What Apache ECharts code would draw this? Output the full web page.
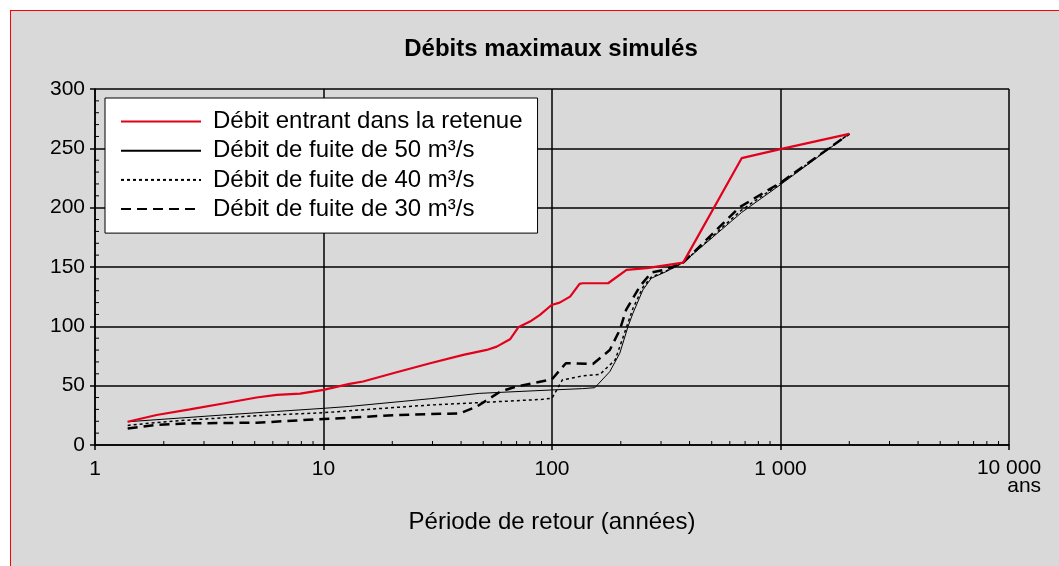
<!DOCTYPE html>
<html>
<head>
<meta charset="utf-8">
<script src="https://cdn.jsdelivr.net/npm/echarts@6/dist/echarts.min.js"></script>
<style>
html,body{margin:0;padding:0;background:#fff;}
#bg{position:absolute;left:10px;top:10px;width:1100px;height:600px;background:#d9d9d9;border-top:1px solid #ff0000;border-left:1px solid #ff0000;}
#chart{position:absolute;left:0;top:0;width:1059px;height:566px;}
</style>
</head>
<body>
<div id="bg"></div>
<div id="chart"></div>
<script>
// ---- data ----
const titleText = 'Débits maximaux simulés';
const xAxisName = 'Période de retour (années)';
const seriesNames = ['Débit entrant dans la retenue', 'Débit de fuite de 50 m³/s', 'Débit de fuite de 40 m³/s', 'Débit de fuite de 30 m³/s'];
const xTickLabels = {1:'1', 10:'10', 100:'100', 1000:'1 000', 10000:'10 000'};
const xUnit = 'ans';

const inflow = [[1.39,19.6],[1.86,25.3],[2.6,30],[3.64,35],[5.1,40],[6.24,42.2],[7.9,43.3],[10,46.4],[13,51.5],[14.9,53.5],[20.9,61.3],[29.3,68.9],[40.9,75.9],[51.8,80.1],[57.3,82.9],[65.5,89.1],[71.2,99.2],[80.1,104],[88.6,109.6],[99.6,118],[108,120],[120,125],[132,135.8],[136,136.3],[176,136.3],[212,147.6],[260,149],[375,153.7],[676,241.7],[1000,249.3],[2000,262.2]];
const leak50 = [[1.39,19.6],[3.64,25.3],[10,30.9],[13,32.5],[29.3,39],[48,43.5],[58.6,44.3],[100,46.4],[136,47.5],[154,48.3],[179,61.8],[198,77.3],[215,99.7],[226,111],[250,130.7],[272,140.5],[315,146],[375,153.7],[676,196],[1000,219.4],[2000,262.2]];
const leak40 = [[1.39,16.5],[1.86,19],[2.6,21.1],[5.1,24.7],[10,27.2],[13,28.9],[29.3,33.7],[48,35.7],[91,38.5],[100,39.4],[111,54.8],[136,58.2],[162,59.5],[189,71.7],[205,91.3],[226,115],[250,133],[272,141.5],[315,146.5],[375,153.7],[676,198],[1000,220.5],[2000,262.2]];
const leak30 = [[1.39,14],[1.86,16.9],[2.6,18.3],[5.1,18.8],[10,21.9],[13,23],[20.9,25.3],[39.6,26.7],[46.8,32.3],[59.3,44.9],[69.6,49.2],[100,55.4],[115,68.9],[151,68.3],[179,80],[198,97],[211,113.8],[242,133.5],[272,145.3],[315,148],[375,153.7],[662,200.4],[1000,221],[2000,262.2]];

const xMinorTicks = [2,3,4,5,6,7,8,9,20,30,40,50,60,70,80,90,200,300,400,500,600,700,800,900,2000,3000,4000,5000,6000,7000,8000,9000];
const yMinorTicks = [10,20,30,40,60,70,80,90,110,120,130,140,160,170,180,190,210,220,230,240,260,270,280,290];

const FONT = '"Liberation Sans", Arial, Helvetica, sans-serif';
const chart = echarts.init(document.getElementById('chart'), null, {renderer:'canvas'});

const option = {
  animation: false,
  title: {
    text: titleText, left: 546, top: 32, textAlign: 'center',
    textStyle: {fontFamily: FONT, fontSize: 24, fontWeight: 'bold', color: '#000'}
  },
  legend: {
    orient: 'vertical', left: 105, top: 98,
    data: seriesNames,
    backgroundColor: '#fff', borderColor: '#000', borderWidth: 1,
    padding: [11.5, 15, 12, 15],
    itemWidth: 80, itemHeight: 14, itemGap: 5.2,
    itemStyle: {opacity: 0},
    textStyle: {fontFamily: FONT, fontSize: 24, color: '#000', lineHeight: 24, padding: [0,0,0,7]},
    selectedMode: false
  },
  grid: {left: 95, top: 89, right: 50, bottom: 121, show: false},
  xAxis: {
    type: 'log', logBase: 10, min: 1, max: 10000,
    name: xAxisName, nameLocation: 'middle', nameGap: 65,
    nameTextStyle: {fontFamily: FONT, fontSize: 24, color: '#000'},
    axisLine: {lineStyle: {color: '#000', width: 1.5}},
    axisTick: {show: true, length: 5, lineStyle: {color: '#000', width: 1.5}},
    splitLine: {show: true, showMinLine: true, showMaxLine: true, lineStyle: {color: '#000', width: 1.5}},
    axisLabel: {
      fontFamily: FONT, fontSize: 21, color: '#000', margin: 14,
      showMinLabel: true, showMaxLabel: true,
      formatter: function(v){
        const r = Math.round(v);
        if (r === 10000) return '{a|' + xTickLabels[r] + '}\n{b|' + xUnit + '}';
        return xTickLabels[r] !== undefined ? xTickLabels[r] : '';
      },
      rich: {
        a: {fontFamily: FONT, fontSize: 21, color: '#000', align: 'right', lineHeight: 18},
        b: {fontFamily: FONT, fontSize: 21, color: '#000', align: 'right', lineHeight: 18}
      }
    }
  },
  yAxis: {
    type: 'value', min: 0, max: 300, interval: 50,
    axisLine: {show: true, lineStyle: {color: '#000', width: 1.5}},
    axisTick: {show: true, length: 5, lineStyle: {color: '#000', width: 1.5}},
    splitLine: {show: true, showMinLine: true, showMaxLine: true, lineStyle: {color: '#000', width: 1.5}},
    axisLabel: {fontFamily: FONT, fontSize: 21, color: '#000', margin: 10}
  },
  series: [
    {type: 'custom', name: 'xminor', data: xMinorTicks.map(v => [v, 0]), renderItem: function(params, api){
      const p = api.coord([api.value(0), 0]);
      return {type:'line', shape:{x1:p[0], y1:p[1], x2:p[0], y2:p[1]-4}, style:{stroke:'#000', lineWidth:1}};
    }, silent: true, clip: false, z: 5},
    {type: 'custom', name: 'yminor', data: yMinorTicks.map(v => [1, v]), renderItem: function(params, api){
      const p = api.coord([1, api.value(1)]);
      return {type:'line', shape:{x1:p[0], y1:p[1], x2:p[0]+4, y2:p[1]}, style:{stroke:'#000', lineWidth:1}};
    }, silent: true, clip: false, z: 5},
    {name: seriesNames[1], type: 'line', data: leak50, symbol: 'none', silent: true, lineStyle: {color: '#000', width: 1}, itemStyle: {color: '#000'}, z: 6},
    {name: seriesNames[2], type: 'line', data: leak40, symbol: 'none', silent: true, lineStyle: {color: '#000', width: 1.5, type: [3, 3]}, itemStyle: {color: '#000'}, z: 7},
    {name: seriesNames[3], type: 'line', data: leak30, symbol: 'none', silent: true, lineStyle: {color: '#000', width: 2.5, type: [10, 6]}, itemStyle: {color: '#000'}, z: 8},
    {name: seriesNames[0], type: 'line', data: inflow, symbol: 'none', silent: true, lineStyle: {color: '#e2001a', width: 2.2}, itemStyle: {color: '#e2001a'}, z: 9}
  ]
};
chart.setOption(option);
</script>
</body>
</html>
